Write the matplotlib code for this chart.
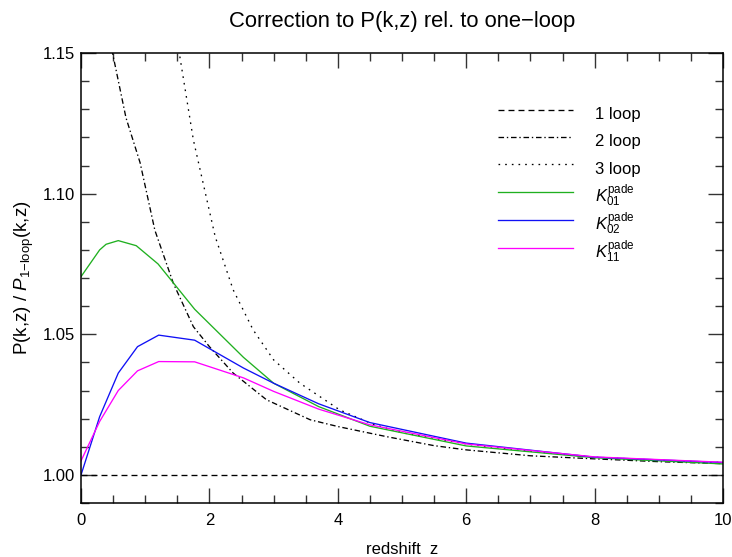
import matplotlib
matplotlib.use("Agg")
import matplotlib.pyplot as plt
from matplotlib.ticker import MultipleLocator, FormatStrFormatter

plt.rcParams['font.family'] = ['Liberation Sans', 'DejaVu Sans']
plt.rcParams['mathtext.fontset'] = 'custom'
plt.rcParams['mathtext.rm'] = 'Liberation Sans'
plt.rcParams['mathtext.it'] = 'Liberation Sans:italic'
plt.rcParams['lines.scale_dashes'] = False

# 1 loop reference
z1 = [0.0, 10.0]
v1 = [1.0, 1.0]

# 2 loop
z2 = [0.4, 0.5, 0.7, 0.92, 1.15, 1.44, 1.75, 2.0, 2.37, 2.89, 3.57, 4.0, 4.76, 5.5, 6.0, 7.0, 8.0, 9.0, 10.0]
v2 = [1.160, 1.149, 1.127, 1.111, 1.087, 1.068, 1.0527, 1.0456, 1.0362, 1.0267, 1.0196, 1.0172,
      1.0136, 1.0104, 1.0089, 1.0068, 1.0057, 1.0047, 1.0040]

# 3 loop
z3 = [1.45, 1.53, 1.75, 2.09, 2.37, 2.68, 3.0, 3.41, 4.03, 4.55, 5.0, 6.06, 7.0, 8.0, 9.0, 10.0]
v3 = [1.158, 1.150, 1.1191, 1.0847, 1.0658, 1.0516, 1.0409, 1.0326, 1.0231, 1.0180, 1.0150,
      1.0108, 1.0084, 1.0063, 1.0052, 1.0044]

# pade approximants
z01 = [0, 0.29, 0.39, 0.58, 0.86, 1.2, 1.77, 2.53, 3.0, 3.7, 4.5, 6, 8, 10]
v01 = [1.0705, 1.080, 1.082, 1.0833, 1.0815, 1.0750, 1.0589, 1.0418, 1.0326, 1.0243, 1.0173,
       1.0103, 1.0061, 1.0039]

z02 = [0, 0.29, 0.58, 0.88, 1.21, 1.77, 2.53, 3.0, 3.7, 4.5, 6, 8, 10]
v02 = [1.000, 1.0207, 1.0362, 1.0456, 1.0497, 1.0479, 1.0380, 1.0326, 1.0253, 1.0186, 1.0113,
       1.0063, 1.0044]

z11 = [0, 0.29, 0.58, 0.88, 1.21, 1.77, 2.53, 3.0, 3.7, 4.5, 6, 8, 10]
v11 = [1.0050, 1.0190, 1.0300, 1.0370, 1.0403, 1.0402, 1.0345, 1.0297, 1.0234, 1.0178, 1.0110,
       1.0064, 1.0045]

fig = plt.figure(figsize=(7.32, 5.57), dpi=100)
ax = fig.add_axes([0.1107, 0.0969, 0.877, 0.8079])

lw = 0.95
ax.plot(z1, v1, color='black', lw=lw, dashes=(4.3, 2.9), label='1 loop')
ax.plot(z2, v2, color='black', lw=lw, dashes=(4.0, 2.0, 1.0, 2.0), label='2 loop')
ax.plot(z3, v3, color='black', lw=lw, dashes=(1.2, 3.6), label='3 loop')
ax.plot(z01, v01, color='#20b020', lw=lw, label=r'$K_{01}^{\mathrm{pade}}$')
ax.plot(z02, v02, color='#1010f5', lw=lw, label=r'$K_{02}^{\mathrm{pade}}$')
ax.plot(z11, v11, color='#ff00ff', lw=lw, label=r'$K_{11}^{\mathrm{pade}}$')

ax.set_xlim(0, 10)
ax.set_ylim(0.99, 1.15)
ax.xaxis.set_major_locator(MultipleLocator(2))
ax.xaxis.set_minor_locator(MultipleLocator(0.5))
ax.yaxis.set_major_locator(MultipleLocator(0.05))
ax.yaxis.set_minor_locator(MultipleLocator(0.01))
ax.yaxis.set_major_formatter(FormatStrFormatter('%.2f'))
ax.tick_params(which='both', direction='in', top=True, right=True, labelsize=12,
               color='#333333', width=1.0)
ax.tick_params(which='major', length=11)
ax.tick_params(axis='y', which='major', pad=4)
ax.tick_params(axis='x', which='major', pad=7)
ax.tick_params(which='minor', length=5.5)
for s in ax.spines.values():
    s.set_linewidth(1.1)

ax.set_title('Correction to P(k,z) rel. to one\u2212loop', fontsize=15.8, pad=19)
ax.set_xlabel('redshift  z', fontsize=12, labelpad=10)
ax.set_ylabel(r'P(k,z) / $P_{1\mathrm{-loop}}$(k,z)', fontsize=13.5, labelpad=5)

leg = ax.legend(loc='upper left', bbox_to_anchor=(0.636, 0.913), frameon=False, fontsize=12,
                handlelength=4.5, handletextpad=1.35, labelspacing=0.05, handleheight=2.07,
                borderpad=0)

fig.savefig('out.png', dpi=100)
